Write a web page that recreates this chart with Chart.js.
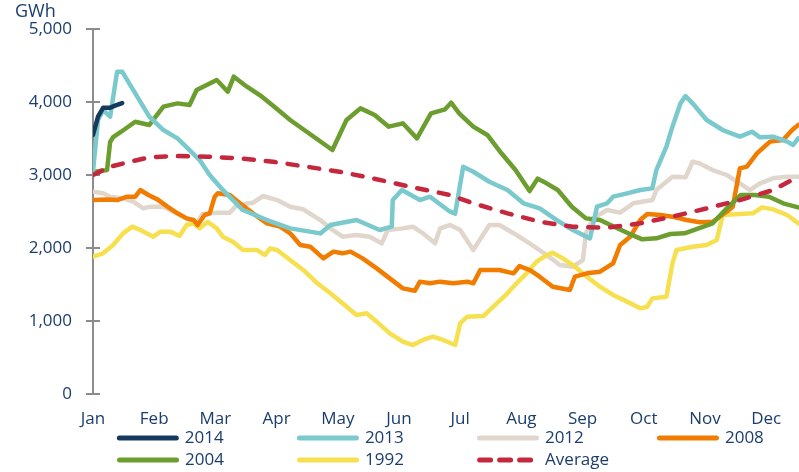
<!DOCTYPE html>
<html>
<head>
<meta charset="utf-8">
<script src="https://cdn.jsdelivr.net/npm/chart.js@4.4.1/dist/chart.umd.min.js"></script>
<style>
html,body{margin:0;padding:0;background:#ffffff;}
#wrap{width:799px;height:472px;position:relative;}
</style>
</head>
<body>
<div id="wrap"><canvas id="c" width="799" height="472"></canvas></div>
<script>
// ---------- data (x = day of year, y = GWh) ----------
const monthLabels = ['Jan','Feb','Mar','Apr','May','Jun','Jul','Aug','Sep','Oct','Nov','Dec'];
const yTickValues = [0, 1000, 2000, 3000, 4000, 5000];
const seriesNames = ['2014','2013','2012','2008','2004','1992','Average'];

const days2014 = [0,2.5,5,8.5,10,12,14.5];
const gwh2014  = [3550,3800,3920,3920,3940,3960,3985];

const days2013 = [0,2.5,5,8.5,12,14.5,21,28,35,42,48,53,58,64.5,74.5,86.5,98,113,118,131,142.5,148.5,149,153.5,162.5,167.5,177.5,180,184,189,197,206,214,222,230.5,238.5,247,250.5,255.5,258.5,265.5,272,278,280,285,288,292,294.5,298,305,313,321.5,327.5,331.5,338,345,348,350.5];
const gwh2013  = [3050,3753,3890,3800,4415,4415,4118,3799,3616,3502,3342,3205,3000,2795,2520,2383,2269,2200,2315,2383,2247,2292,2657,2794,2657,2703,2497,2470,3114,3045,2908,2794,2612,2543,2383,2246,2132,2566,2612,2703,2749,2794,2817,3068,3388,3662,3982,4082,3982,3753,3616,3525,3593,3516,3525,3457,3411,3502];

const days2012 = [0,5,8.5,15,20,25,28.5,35,40,46.5,51.5,54.5,61.5,68,71.5,79.5,84.5,91.5,98,104.5,113,118,124,131,137.5,143.5,146.5,154,159,164,170,172.5,177.5,182.5,189,197,202,210.5,217,225.5,232,238.5,243.5,245,248.5,255.5,262,268.5,278,280,288,294.5,298,301.5,308,315,321.5,326.5,331.5,338,345,350.5];
const gwh2012  = [2771,2749,2703,2680,2634,2543,2566,2566,2497,2406,2338,2466,2484,2484,2589,2621,2712,2657,2566,2530,2383,2269,2155,2178,2155,2064,2246,2269,2292,2201,2064,2269,2315,2246,1972,2315,2315,2178,2064,1904,1767,1744,1835,2201,2406,2520,2484,2612,2657,2794,2977,2968,3182,3159,3068,3000,2886,2794,2886,2954,2977,2977];

const days2008 = [0,7,12,17,21,23.5,27.5,32,37,42,46.5,50,52,55.5,58,60.5,62,68,73,79.5,86.5,93,98,103,108,114.5,119.5,124,128,134,141,147.5,154,160,162.5,167.5,172.5,179,186,189,192.5,202,209,212,217,222,228.5,237,239.5,245.5,252,258.5,262,267,272,275.5,282,288,295,301.5,308,315,318,321.5,325,330,336.5,343,347.5,350.5];
const gwh2008  = [2657,2666,2657,2703,2703,2794,2726,2666,2566,2475,2406,2383,2315,2452,2475,2703,2749,2726,2612,2475,2338,2292,2201,2041,2018,1858,1950,1927,1950,1858,1721,1584,1447,1415,1539,1516,1539,1516,1539,1516,1699,1699,1653,1753,1699,1607,1470,1425,1607,1653,1676,1790,2041,2155,2383,2466,2452,2429,2383,2352,2360,2497,2566,3091,3114,3297,3457,3479,3616,3685];

const days2004 = [0,7,8.5,10,14,21,28,35,42,48,51.5,56.5,61.5,67,70,76.5,84,91,98,105,112,119,126,133,140,147,154,161,168,175,178,182,189,196,203,210,217,221,224,231,238,245,252,259,266,273,280,287,294,301,308,315,322,329,336,343,350.5];
const gwh2004  = [3040,3068,3450,3520,3593,3730,3685,3936,3981,3959,4164,4233,4301,4141,4347,4210,4073,3913,3753,3616,3479,3342,3753,3913,3822,3662,3708,3502,3845,3900,3990,3845,3662,3548,3297,3068,2780,2950,2909,2794,2566,2406,2383,2292,2201,2119,2132,2192,2201,2269,2338,2543,2726,2726,2703,2612,2557];

const days1992 = [0,5,10,15,19.5,23.5,30,33.5,38.5,43,46.5,50,53,57,61.5,64.5,69.5,74.5,81.5,85.5,88,91.5,98,104.5,111.5,118,124,131,136,141,147.5,154,159,164,169,174,180,182.5,186,194,199,206,210.5,215.5,220.5,225.5,228.5,233.5,238.5,245.5,252,258.5,265.5,272,275.5,278,285,288,290,298,305,310,313,321.5,328,332.5,338,345,350.5];
const gwh1992  = [1881,1927,2041,2201,2292,2246,2155,2224,2224,2164,2315,2338,2269,2360,2269,2155,2087,1972,1972,1904,1995,1972,1835,1699,1516,1379,1242,1082,1105,991,831,717,671,740,785,740,671,968,1059,1068,1196,1379,1516,1653,1813,1904,1936,1858,1767,1607,1470,1356,1265,1173,1196,1310,1333,1790,1972,2018,2041,2109,2452,2466,2475,2557,2529,2452,2338];

const daysAvg = [0,8.5,18.5,28,40,56.5,73,89.5,106,122.5,139,156,177.5,189,206,222,238.5,255.5,272,288,305,321.5,338,350.5];
const gwhAvg  = [3000,3114,3182,3242,3260,3251,3228,3182,3114,3045,2954,2849,2726,2612,2475,2360,2292,2278,2338,2429,2543,2657,2794,2977];

// ---------- styling ----------
const FONT = '"Open Sans", "Liberation Sans", sans-serif';
const NAVY_TEXT = '#1b3d6e';
const AXIS_GRAY = '#8c8c8c';
const colors = ['#163a5c','#79c9cd','#e0d6cc','#f27c00','#6b9e2e','#f6e04f','#c5283d'];
const orders = [1,2,6,4,3,5,0];
const seriesDays = [days2014, days2013, days2012, days2008, days2004, days1992, daysAvg];
const seriesVals = [gwh2014, gwh2013, gwh2012, gwh2008, gwh2004, gwh1992, gwhAvg];

const toPoints = (xs, ys) => xs.map((x, i) => ({ x: x, y: ys[i] }));

const datasets = seriesNames.map((name, i) => ({
  label: name,
  data: toPoints(seriesDays[i], seriesVals[i]),
  borderColor: colors[i],
  backgroundColor: colors[i],
  borderWidth: 4.5,
  borderCapStyle: 'round',
  borderJoinStyle: 'round',
  borderDash: name === 'Average' ? [10, 12] : [],
  pointRadius: 0,
  pointHoverRadius: 0,
  tension: 0,
  fill: false,
  order: orders[i]
}));

// legend geometry helpers (fixed column pitch)
const LEG_FONT_SIZE = 17;
const legendTextTargets = [110.8, 110.8, 110.8, 45.6, 110.8, 110.8, 226.9];

Chart.defaults.font.family = FONT;

const chart = new Chart(document.getElementById('c'), {
  type: 'line',
  data: { datasets: datasets },
  options: {
    responsive: false,
    animation: false,
    devicePixelRatio: 1,
    layout: { padding: { left: 15, right: 0, top: 0, bottom: -6.5 } },
    plugins: {
      tooltip: { enabled: false },
      title: {
        display: true,
        text: 'GWh',
        align: 'start',
        color: NAVY_TEXT,
        font: { size: 18, family: FONT, weight: 'normal', lineHeight: 1.2 },
        padding: { top: 1.4, bottom: 6 }
      },
      legend: {
        display: true,
        position: 'bottom',
        align: 'center',
        fullSize: false,
        title: {
          display: true,
          text: ' ',
          font: { size: 1, lineHeight: 1 },
          padding: { top: -7, bottom: 0 }
        },
        labels: {
          usePointStyle: true,
          pointStyleWidth: 57,
          boxHeight: 10,
          padding: 5,
          color: NAVY_TEXT,
          font: { size: LEG_FONT_SIZE, family: FONT },
          generateLabels: (ch) => {
            const ctx = ch.ctx;
            ctx.save();
            ctx.font = 'normal ' + LEG_FONT_SIZE + 'px ' + FONT;
            const sp = ctx.measureText(' ').width;
            const items = ch.data.datasets.map((ds, i) => {
              let t = ds.label;
              while (ctx.measureText(t + ' ').width <= legendTextTargets[i] + sp / 2) t += ' ';
              return {
                text: t,
                fillStyle: ds.borderColor,
                strokeStyle: ds.borderColor,
                lineWidth: 5,
                lineCap: 'round',
                lineDash: ds.label === 'Average' ? [11, 9] : [],
                pointStyle: 'line',
                hidden: !ch.isDatasetVisible(i),
                datasetIndex: i,
                fontColor: NAVY_TEXT
              };
            });
            ctx.restore();
            return items;
          }
        }
      }
    },
    scales: {
      x: {
        type: 'linear',
        min: 0,
        max: 350.9,
        afterBuildTicks: (scale) => {
          scale.ticks = monthLabels.map((m, i) => ({ value: i * 365 / 12 }));
        },
        afterFit: (scale) => { scale.height = 36.5; },
        grid: { display: false, drawTicks: false },
        border: { display: false },
        ticks: {
          autoSkip: false,
          maxRotation: 0,
          padding: 14.8,
          color: NAVY_TEXT,
          font: { size: 17, family: FONT },
          callback: (value, index) => monthLabels[index]
        }
      },
      y: {
        type: 'linear',
        min: 0,
        max: 5000,
        afterBuildTicks: (scale) => {
          scale.ticks = yTickValues.map(v => ({ value: v }));
        },
        afterFit: (scale) => { scale.width = 78; },
        grid: {
          drawOnChartArea: false,
          drawTicks: true,
          tickLength: 7,
          color: AXIS_GRAY,
          lineWidth: 2
        },
        border: { display: true, color: AXIS_GRAY, width: 2 },
        ticks: {
          padding: 14,
          color: NAVY_TEXT,
          font: { size: 17, family: FONT },
          callback: (value) => value.toLocaleString('en-US')
        }
      }
    }
  },
  plugins: [{
    id: 'crossTicks',
    beforeDatasetsDraw(ch) {
      const ys = ch.scales.y;
      const ctx = ch.ctx;
      ctx.save();
      ctx.strokeStyle = AXIS_GRAY;
      ctx.lineWidth = 2;
      ys.ticks.forEach(t => {
        const py = Math.round(ys.getPixelForValue(t.value));
        ctx.beginPath();
        ctx.moveTo(ys.right, py);
        ctx.lineTo(ys.right + 7, py);
        ctx.stroke();
      });
      ctx.restore();
    }
  }]
});
</script>
</body>
</html>
